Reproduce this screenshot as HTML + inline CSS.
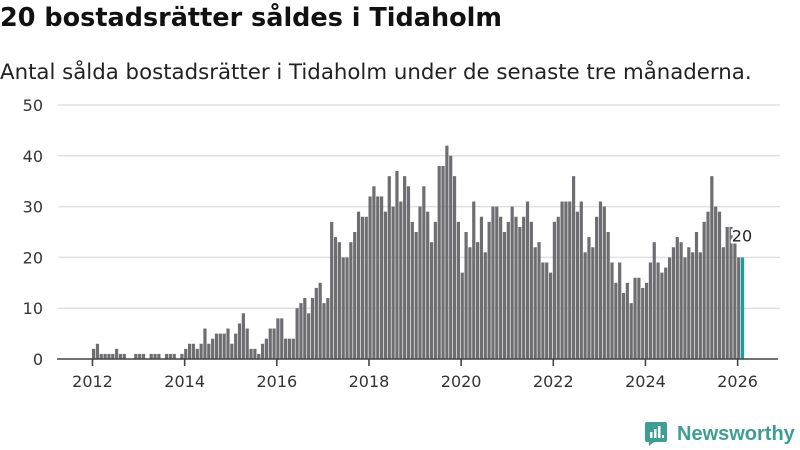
<!DOCTYPE html>
<html><head><meta charset="utf-8">
<style>
body{margin:0;width:800px;height:450px;background:#fff;font-family:"DejaVu Sans","Liberation Sans",sans-serif;overflow:hidden;position:relative}
#title{position:absolute;left:0;top:3px;font-size:25.5px;font-weight:bold;color:#111}
#sub{position:absolute;left:0;top:60px;font-size:21.3px;color:#222;white-space:nowrap}
svg{position:absolute;left:0;top:0}
</style></head><body>
<div id="title">20 bostadsrätter såldes i Tidaholm</div>
<div id="sub">Antal sålda bostadsrätter i Tidaholm under de senaste tre månaderna.</div>
<svg id="chart" width="800" height="450"></svg>
<div style="position:absolute;left:645px;top:421px;display:flex;align-items:center">
<svg width="22" height="26" style="position:static"><path d="M2 1h18a2 2 0 0 1 2 2v16a2 2 0 0 1-2 2H9l-5 4v-4H2a2 2 0 0 1-2-2V3a2 2 0 0 1 2-2z" fill="#3d9e96"/><rect x="5" y="11" width="2.5" height="6" fill="#fff"/><rect x="9" y="8" width="2.5" height="9" fill="#fff"/><rect x="13" y="5" width="2.5" height="12" fill="#fff"/><rect x="17" y="14" width="2" height="3" fill="#fff"/></svg>
<span style="margin-left:10px;font-size:20px;color:#3d9e96;font-weight:bold;font-family:'Liberation Sans',sans-serif">Newsworthy</span></div>
<script>
const startYear = 2012;
const values = [
2,3,1,1,1,1,2,1,1,0,0,1,
1,1,0,1,1,1,0,1,1,1,0,1,
2,3,3,2,3,6,3,4,5,5,5,6,
3,5,7,9,6,2,2,1,3,4,6,6,
8,8,4,4,4,10,11,12,9,12,14,15,
11,12,27,24,23,20,20,23,25,29,28,28,
32,34,32,32,29,36,30,37,31,36,34,27,
25,30,34,29,23,27,38,38,42,40,36,27,
17,25,22,31,23,28,21,27,30,30,28,25,
27,30,28,26,28,31,27,22,23,19,19,17,
27,28,31,31,31,36,29,31,21,24,22,28,
31,30,25,19,15,19,13,15,11,16,16,14,
15,19,23,19,17,18,20,22,24,23,20,22,
21,25,21,27,29,36,30,29,22,26,26,23,
20,20];
const yTicks = [0,10,20,30,40,50];
const xTickYears = [2012,2014,2016,2018,2020,2022,2024,2026];
const NS="http://www.w3.org/2000/svg";
const svg=document.getElementById('chart');
const y=v=>359-v*5.08;
const x=m=>92+m*3.84;
const FF='DejaVu Sans, Liberation Sans, sans-serif';
function mk(t,a){const e=document.createElementNS(NS,t);for(const k in a)e.setAttribute(k,a[k]);svg.appendChild(e);return e;}
yTicks.forEach(t=>{
 if(t>0){const l=mk('line',{x1:58,x2:780,y1:y(t),y2:y(t),stroke:'#e0e0e0','stroke-width':1.5});
 
 }
 const tx=mk('text',{x:43,y:y(t)+6,'text-anchor':'end','font-size':16,fill:'#333','font-family':FF});
 tx.textContent=t;
 
 
});
values.forEach((v,i)=>{
 const last=i===values.length-1;
 const r=mk('rect',{x:x(i),y:y(v),width:3.2,height:359-y(v),fill:last?'#14a39a':'#6e6d72'});
 
 
});
const ax=mk('line',{x1:57,x2:778,y1:359,y2:359,stroke:'#444','stroke-width':1.6});


xTickYears.forEach(yr=>{
 const px=x((yr-startYear)*12)+0.5;
 const tk=mk('line',{x1:px,x2:px,y1:359,y2:366,stroke:'#444','stroke-width':1.6});
 
 
 const tx=mk('text',{x:px,y:387,'text-anchor':'middle','font-size':16,fill:'#333','font-family':FF});
 tx.textContent=yr;
 
 
});
const li=values.length-1;
const lab=mk('text',{x:x(li)+1,y:y(values[li])-16,'text-anchor':'middle','font-size':16,fill:'#222',stroke:'#fff','stroke-width':4,'paint-order':'stroke','font-family':FF});
lab.textContent=values[li];


</script>
</body></html>
